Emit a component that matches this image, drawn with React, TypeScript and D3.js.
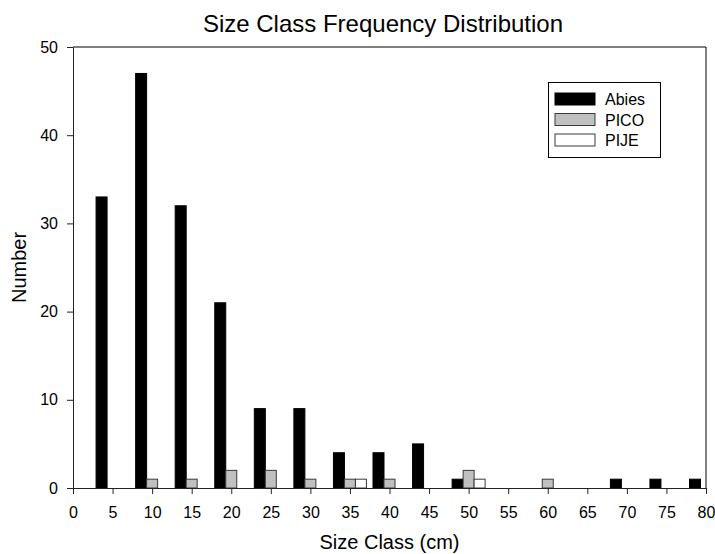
import React, { useEffect, useRef } from 'react';
import * as d3 from 'd3';

const sizeClasses = [5, 10, 15, 20, 25, 30, 35, 40, 45, 50, 55, 60, 65, 70, 75, 80];
const abies = [33, 47, 32, 21, 9, 9, 4, 4, 5, 1, 0, 0, 0, 1, 1, 1];
const pico = [0, 1, 1, 2, 2, 1, 1, 1, 0, 2, 0, 1, 0, 0, 0, 0];
const pije = [0, 0, 0, 0, 0, 0, 1, 0, 0, 1, 0, 0, 0, 0, 0, 0];
const seriesNames = ['Abies', 'PICO', 'PIJE'];
const seriesFill = ['#000000', '#c0c0c0', '#ffffff'];
const xTicks = d3.range(0, 81, 5);
const yTicks = [0, 10, 20, 30, 40, 50];

const FONT = 'Arial, "Liberation Sans", Helvetica, sans-serif';

const App: React.FC = () => {
  const svgRef = useRef<SVGSVGElement>(null);

  useEffect(() => {
    if (!svgRef.current) return;
    const width = 715;
    const height = 554;
    const margin = { top: 47, right: 9, bottom: 66, left: 73 };

    const svg = d3.select(svgRef.current);
    svg.selectAll('*').remove();
    svg.attr('width', width).attr('height', height);

    const x = d3.scaleLinear().domain([0, 80]).range([margin.left, width - margin.right]);
    const y = d3.scaleLinear().domain([0, 50]).range([height - margin.bottom, margin.top]);

    // three bars per size class, PICO centred on the tick
    const groupWidth = (x(5) - x(0)) * 0.834;
    const sub = d3.scaleBand<string>()
      .domain(seriesNames)
      .range([-groupWidth / 2, groupWidth / 2])
      .padding(0);

    const allSeries = [abies, pico, pije];
    const bars = allSeries.flatMap((vals, si) =>
      vals.map((v, i) => ({ key: seriesNames[si], fill: seriesFill[si], cls: sizeClasses[i], value: v }))
    ).filter(d => d.value > 0);

    // frame (top + right)
    svg.append('path')
      .attr('d', `M${x(0)},${y(50)}H${x(80)}V${y(0)}`)
      .attr('fill', 'none')
      .attr('stroke', '#000')
      .attr('stroke-width', 1);

    // bars
    svg.append('g')
      .selectAll('rect')
      .data(bars)
      .enter()
      .append('rect')
      .attr('x', d => x(d.cls) + (sub(d.key) as number))
      .attr('y', d => y(d.value))
      .attr('width', sub.bandwidth())
      .attr('height', d => y(0) - y(d.value))
      .attr('fill', d => d.fill)
      .attr('stroke', d => (d.key === 'Abies' ? '#000' : '#3a3a3a'))
      .attr('stroke-width', 1);

    // axes
    const xAxis = svg.append('g')
      .attr('transform', `translate(0,${y(0)})`)
      .call(d3.axisBottom(x).tickValues(xTicks).tickSize(6).tickPadding(13).tickSizeOuter(0));
    const yAxis = svg.append('g')
      .attr('transform', `translate(${x(0)},0)`)
      .call(d3.axisLeft(y).tickValues(yTicks).tickSize(6).tickPadding(9).tickSizeOuter(0));

    [xAxis, yAxis].forEach(g => {
      g.select('.domain').attr('stroke', '#222');
      g.selectAll('.tick line').attr('stroke', '#222');
      g.selectAll('.tick text')
        .attr('fill', '#000')
        .style('font-family', FONT)
        .style('font-size', '16px');
    });

    // titles
    svg.append('text')
      .attr('x', 383)
      .attr('y', 32)
      .attr('text-anchor', 'middle')
      .style('font-family', FONT)
      .style('font-size', '24px')
      .text('Size Class Frequency Distribution');

    svg.append('text')
      .attr('x', (x(0) + x(80)) / 2)
      .attr('y', 549)
      .attr('text-anchor', 'middle')
      .style('font-family', FONT)
      .style('font-size', '20px')
      .text('Size Class (cm)');

    svg.append('text')
      .attr('transform', `translate(25.5,${(y(0) + y(50)) / 2}) rotate(-90)`)
      .attr('text-anchor', 'middle')
      .style('font-family', FONT)
      .style('font-size', '20px')
      .text('Number');

    // legend
    const legend = svg.append('g').attr('transform', 'translate(548.5,82.5)');
    legend.append('rect')
      .attr('width', 112)
      .attr('height', 75)
      .attr('fill', '#fff')
      .attr('stroke', '#000');
    seriesNames.forEach((name, i) => {
      const row = legend.append('g').attr('transform', `translate(0,${10 + i * 20.5})`);
      row.append('rect')
        .attr('x', 6.5)
        .attr('y', 0.5)
        .attr('width', 40)
        .attr('height', 12)
        .attr('fill', seriesFill[i])
        .attr('stroke', i === 0 ? '#000' : '#3a3a3a');
      row.append('text')
        .attr('x', 56.5)
        .attr('y', 12.5)
        .style('font-family', FONT)
        .style('font-size', '16px')
        .text(name);
    });
  }, []);

  return (
    <svg
      ref={svgRef}
      style={{ position: 'absolute', left: 0, top: 0, display: 'block', background: '#fff' }}
    />
  );
};

export default App;
